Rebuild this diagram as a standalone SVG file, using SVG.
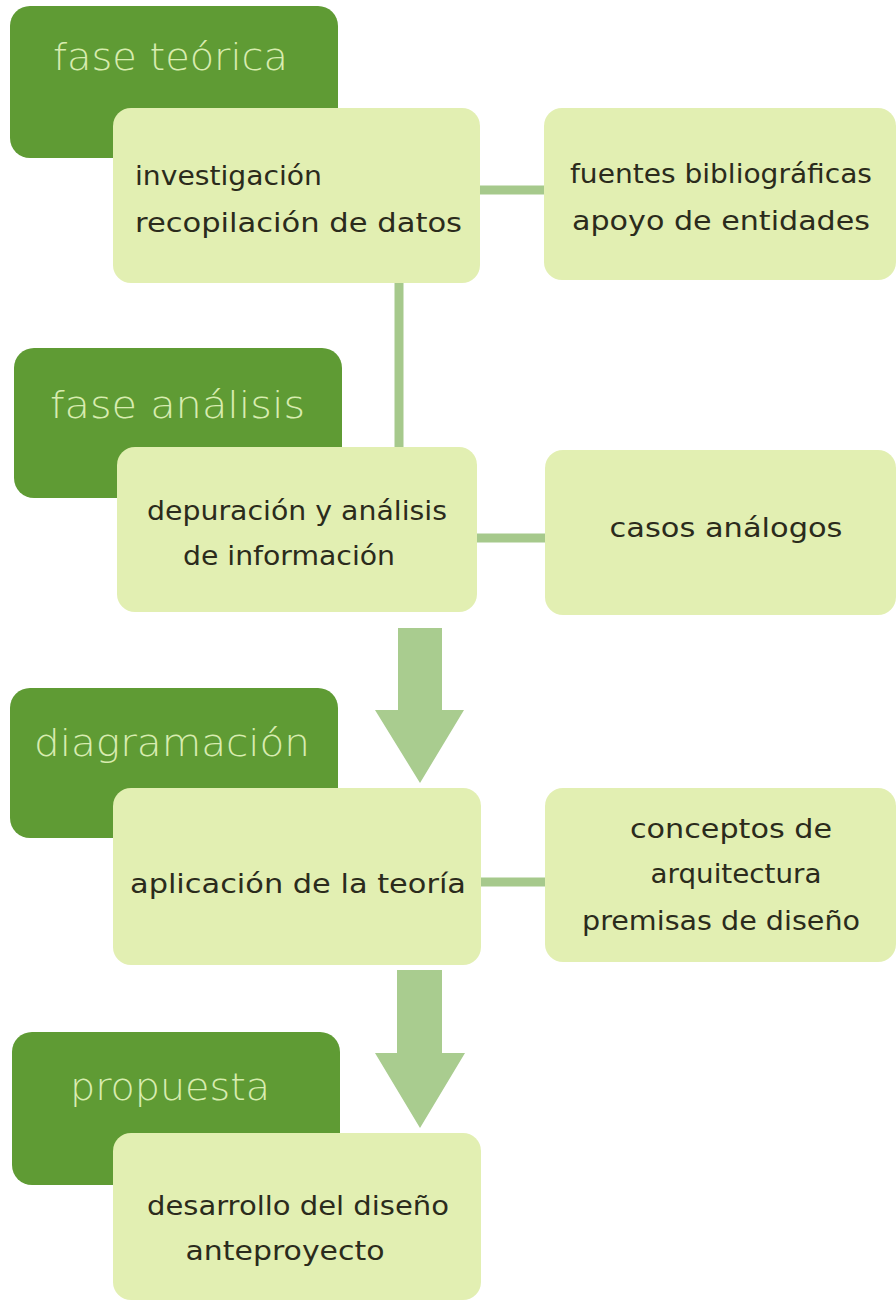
<svg xmlns="http://www.w3.org/2000/svg" width="896" height="1305" viewBox="0 0 896 1305">
<style>
.hdr{fill:#5f9b34}
.box{fill:#e2efb2}
.ht{fill:#d8ecb0;font-family:"DejaVu Sans","Liberation Sans",sans-serif;font-weight:200;font-size:38px}
.bt{fill:#2b2b1c;font-family:"DejaVu Sans","Liberation Sans",sans-serif;font-weight:400;font-size:26px}
.c{text-anchor:middle}
.ln{stroke:#a6c98c;stroke-width:9;fill:none}
.arr{fill:#a9cc8f}
</style>
<rect width="896" height="1305" fill="#ffffff"/>
<g id="connectors">
<line class="ln" x1="478" y1="190" x2="546" y2="190"/>
<line class="ln" x1="399" y1="281" x2="399" y2="449"/>
<line class="ln" x1="475" y1="538" x2="547" y2="538"/>
<line class="ln" x1="479" y1="882" x2="547" y2="882"/>
<path class="arr" d="M398 628 H442 V710 H464 L420 783 L375 710 H398 Z"/>
<path class="arr" d="M397 970 H442 V1053 H465 L420 1128 L375 1053 H397 Z"/>
</g>
<g id="h1"><rect class="hdr" x="10" y="6" width="328" height="152" rx="20"/><text class="ht" x="53" y="70" textLength="235" lengthAdjust="spacingAndGlyphs">fase teórica</text></g>
<g id="b1"><rect class="box" x="113" y="108" width="367" height="175" rx="18"/><text class="bt" x="135" y="185" textLength="187" lengthAdjust="spacingAndGlyphs">investigación</text><text class="bt" x="135" y="232" textLength="327" lengthAdjust="spacingAndGlyphs">recopilación de datos</text></g>
<g id="r1"><rect class="box" x="544" y="108" width="352" height="172" rx="18"/><text class="bt c" x="721" y="183" textLength="302" lengthAdjust="spacingAndGlyphs">fuentes bibliográficas</text><text class="bt c" x="721" y="230" textLength="298" lengthAdjust="spacingAndGlyphs">apoyo de entidades</text></g>
<g id="h2"><rect class="hdr" x="14" y="348" width="328" height="150" rx="20"/><text class="ht" x="50" y="418" textLength="255" lengthAdjust="spacingAndGlyphs">fase análisis</text></g>
<g id="b2"><rect class="box" x="117" y="447" width="360" height="165" rx="18"/><text class="bt c" x="297" y="520" textLength="300" lengthAdjust="spacingAndGlyphs">depuración y análisis</text><text class="bt c" x="289" y="565" textLength="212" lengthAdjust="spacingAndGlyphs">de información</text></g>
<g id="r2"><rect class="box" x="545" y="450" width="351" height="165" rx="18"/><text class="bt c" x="726" y="537" textLength="233" lengthAdjust="spacingAndGlyphs">casos análogos</text></g>
<g id="h3"><rect class="hdr" x="10" y="688" width="328" height="150" rx="20"/><text class="ht" x="34" y="756" textLength="276" lengthAdjust="spacingAndGlyphs">diagramación</text></g>
<g id="b3"><rect class="box" x="113" y="788" width="368" height="177" rx="18"/><text class="bt c" x="298" y="893" textLength="336" lengthAdjust="spacingAndGlyphs">aplicación de la teoría</text></g>
<g id="r3"><rect class="box" x="545" y="788" width="351" height="174" rx="18"/><text class="bt c" x="731" y="838" textLength="202" lengthAdjust="spacingAndGlyphs">conceptos de</text><text class="bt c" x="736" y="883" textLength="171" lengthAdjust="spacingAndGlyphs">arquitectura</text><text class="bt c" x="721" y="930" textLength="278" lengthAdjust="spacingAndGlyphs">premisas de diseño</text></g>
<g id="h4"><rect class="hdr" x="12" y="1032" width="328" height="153" rx="20"/><text class="ht" x="70" y="1100" textLength="200" lengthAdjust="spacingAndGlyphs">propuesta</text></g>
<g id="b4"><rect class="box" x="113" y="1133" width="368" height="167" rx="18"/><text class="bt c" x="298" y="1215" textLength="302" lengthAdjust="spacingAndGlyphs">desarrollo del diseño</text><text class="bt c" x="285" y="1260" textLength="199" lengthAdjust="spacingAndGlyphs">anteproyecto</text></g>
</svg>
